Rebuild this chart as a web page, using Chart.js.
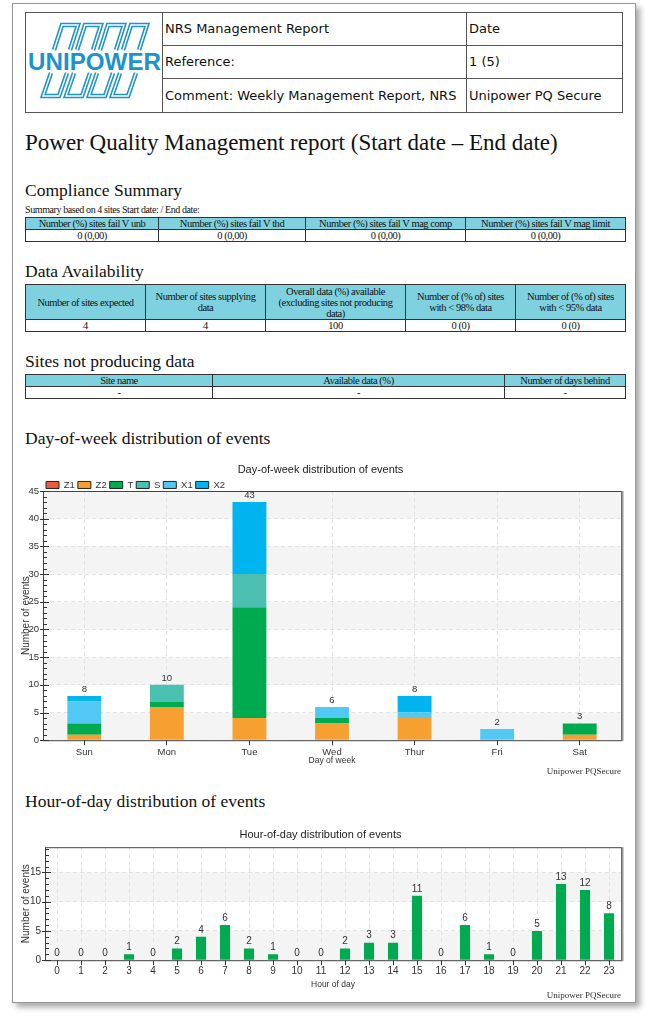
<!DOCTYPE html>
<html>
<head>
<meta charset="utf-8">
<script src="https://cdn.jsdelivr.net/npm/chart.js@4.4.0/dist/chart.umd.min.js"></script>
<style>
  body { margin: 0; width: 650px; height: 1024px; background: #fff; position: relative; overflow: hidden; }
  .page { position: absolute; left: 12px; top: 3px; width: 622px; height: 998px; border: 1px solid #999; box-shadow: 4px 4px 6px rgba(0,0,0,0.35); background: #fff; }
  .abs { position: absolute; }
  .head { font-family: "Liberation Serif", serif; color: #111; white-space: nowrap; }
  table { border-collapse: collapse; table-layout: fixed; position: absolute; }
  .hdr td { border: 1px solid #555; font-family: "DejaVu Sans", sans-serif; font-size: 13px; color: #111; padding: 0 2px; white-space: nowrap; }
  .grid td { border: 1px solid #333; font-family: "Liberation Serif", serif; font-size: 10.5px; letter-spacing: -0.45px; text-align: center; color: #111; padding: 0 3px; line-height: 11px; }
  .grid tr.h td { background: #80d1df; }
  canvas { position: absolute; }
</style>
</head>
<body>
<div class="page"></div>

<table class="hdr" style="left:25px;top:12px;width:597px;height:98px;">
  <colgroup><col style="width:137px"><col style="width:304px"><col style="width:156px"></colgroup>
  <tr style="height:32px">
    <td rowspan="3" style="padding:0">
      <svg width="137" height="96" viewBox="0 0 137 96">
        <g fill="none" stroke="#1d93cc" stroke-width="4.5" stroke-linejoin="miter">
          <path d="M28 37 L36 12 L52 12 L44 37"/><path d="M51 37 L59 12 L75 12 L67 37"/>
          <path d="M74 37 L82 12 L98 12 L90 37"/><path d="M97 37 L105 12 L121 12 L113 37"/>
          <path d="M25 60 L17 83 L33 83 L41 60"/><path d="M48 60 L40 83 L56 83 L64 60"/>
          <path d="M71 60 L63 83 L79 83 L87 60"/><path d="M94 60 L86 83 L102 83 L110 60"/>
        </g>
        <g fill="none" stroke="#fff" stroke-width="1.4">
          <path d="M28 37 L36 12 L52 12 L44 37"/><path d="M51 37 L59 12 L75 12 L67 37"/>
          <path d="M74 37 L82 12 L98 12 L90 37"/><path d="M97 37 L105 12 L121 12 L113 37"/>
          <path d="M25 60 L17 83 L33 83 L41 60"/><path d="M48 60 L40 83 L56 83 L64 60"/>
          <path d="M71 60 L63 83 L79 83 L87 60"/><path d="M94 60 L86 83 L102 83 L110 60"/>
        </g>
        <text x="2" y="57" font-family="Liberation Sans, sans-serif" font-weight="bold" font-size="23" fill="#1d93cc" textLength="133" lengthAdjust="spacingAndGlyphs">UNIPOWER</text>
      </svg>
    </td>
    <td>NRS Management Report</td><td>Date</td>
  </tr>
  <tr style="height:33px"><td>Reference:</td><td>1 (5)</td></tr>
  <tr style="height:33px"><td>Comment: Weekly Management Report, NRS</td><td>Unipower PQ Secure</td></tr>
</table>

<div class="abs head" style="left:25px;top:130px;font-size:23px;line-height:26px;">Power Quality Management report (Start date &#8211; End date)</div>

<div class="abs head" style="left:25px;top:180px;font-size:17.5px;line-height:20px;">Compliance Summary</div>
<div class="abs head" style="left:25px;top:204px;font-size:10px;line-height:11px;letter-spacing:-0.4px;">Summary based on 4 sites Start date: / End date:</div>
<table class="grid" style="left:25px;top:217px;width:600px;">
  <colgroup><col style="width:133px"><col style="width:147px"><col style="width:160px"><col style="width:160px"></colgroup>
  <tr class="h" style="height:12px"><td>Number (%) sites fail V unb</td><td>Number (%) sites fail V thd</td><td>Number (%) sites fail V mag comp</td><td>Number (%) sites fail V mag limit</td></tr>
  <tr style="height:12px"><td>0 (0,00)</td><td>0 (0,00)</td><td>0 (0,00)</td><td>0 (0,00)</td></tr>
</table>

<div class="abs head" style="left:25px;top:261px;font-size:17.5px;line-height:20px;">Data Availability</div>
<table class="grid" style="left:25px;top:284px;width:600px;">
  <colgroup><col style="width:120px"><col style="width:120px"><col style="width:140px"><col style="width:110px"><col style="width:110px"></colgroup>
  <tr class="h" style="height:35px"><td>Number of sites expected</td><td>Number of sites supplying data</td><td>Overall data (%) available (excluding sites not producing data)</td><td>Number of (% of) sites with &lt; 98% data</td><td>Number of (% of) sites with &lt; 95% data</td></tr>
  <tr style="height:12px"><td>4</td><td>4</td><td>100</td><td>0 (0)</td><td>0 (0)</td></tr>
</table>

<div class="abs head" style="left:25px;top:351px;font-size:17.5px;line-height:20px;">Sites not producing data</div>
<table class="grid" style="left:25px;top:374px;width:600px;">
  <colgroup><col style="width:187px"><col style="width:292px"><col style="width:121px"></colgroup>
  <tr class="h" style="height:12px"><td>Site name</td><td>Available data (%)</td><td>Number of days behind</td></tr>
  <tr style="height:11px"><td>-</td><td>-</td><td>-</td></tr>
</table>

<div class="abs head" style="left:25px;top:428px;font-size:17.5px;line-height:20px;">Day-of-week distribution of events</div>
<canvas id="dayChart" width="610" height="320" style="left:20px;top:459px;width:610px;height:320px;"></canvas>

<div class="abs head" style="left:25px;top:791px;font-size:17.5px;line-height:20px;">Hour-of-day distribution of events</div>
<canvas id="hourChart" width="610" height="178" style="left:20px;top:823px;width:610px;height:178px;"></canvas>

<script>
// Day-of-week data (stacked by event type)
const days = ["Sun", "Mon", "Tue", "Wed", "Thur", "Fri", "Sat"];
const z1Events = [0, 0, 0, 0, 0, 0, 0];
const z2Events = [1, 6, 4, 3, 4, 0, 1];
const tEvents = [2, 1, 20, 1, 0, 0, 2];
const sEvents = [0, 3, 6, 0, 0, 0, 0];
const x1Events = [4, 0, 0, 2, 1, 2, 0];
const x2Events = [1, 0, 13, 0, 3, 0, 0];
const dayMax = 45;

// Hour-of-day data
const hours = ["0", "1", "2", "3", "4", "5", "6", "7", "8", "9", "10", "11",
  "12", "13", "14", "15", "16", "17", "18", "19", "20", "21", "22", "23"];
const hourEvents = [0, 0, 0, 1, 0, 2, 4, 6, 2, 1, 0, 0, 2, 3, 3, 11, 0, 6, 1, 0, 5, 13, 12, 8];
const hourMax = 19.3;

const sans = "'Liberation Sans', Arial, sans-serif";

// grey bands between every other major tick
const bands = {
  id: "bands",
  beforeDraw(chart) {
    const { ctx, chartArea: a, scales: { y } } = chart;
    const t = y.ticks;
    ctx.save();
    ctx.fillStyle = "#f4f4f4";
    for (let i = 0; i < t.length; i += 2) {
      const bottom = y.getPixelForValue(t[i].value);
      const top = i + 1 < t.length ? y.getPixelForValue(t[i + 1].value) : a.top;
      ctx.fillRect(a.left, top, a.right - a.left, bottom - top);
    }
    ctx.restore();
  },
};

// plot frame + minor ticks on the y axis
const frame = {
  id: "frame",
  afterDatasetsDraw(chart) {
    const { ctx, chartArea: a, scales: { y } } = chart;
    ctx.save();
    ctx.strokeStyle = "#444";
    ctx.lineWidth = 1;
    ctx.strokeRect(a.left + 0.5, a.top + 0.5, a.right - a.left, a.bottom - a.top);
    ctx.strokeStyle = "#999";
    ctx.lineWidth = 2;
    ctx.beginPath();
    ctx.moveTo(a.right + 1.5, a.top);
    ctx.lineTo(a.right + 1.5, a.bottom + 1);
    ctx.stroke();
    ctx.strokeStyle = "#333";
    ctx.lineWidth = 1;
    for (let v = 0; v <= y.max; v++) {
      const py = Math.round(y.getPixelForValue(v)) + 0.5;
      const major = v % 5 === 0;
      ctx.beginPath();
      ctx.moveTo(a.left - (major ? 3 : 0), py);
      ctx.lineTo(a.left + (major ? 6 : 4), py);
      ctx.stroke();
    }
    ctx.restore();
  },
};

// value labels above each bar / stack
const totals = {
  id: "totals",
  afterDatasetsDraw(chart, args, opts) {
    const { ctx, scales: { x, y } } = chart;
    const sets = chart.data.datasets;
    ctx.save();
    ctx.font = opts.font;
    ctx.fillStyle = "#333";
    ctx.textAlign = "center";
    ctx.textBaseline = "bottom";
    chart.data.labels.forEach((lab, i) => {
      const sum = sets.reduce((s, d) => s + (d.data[i] || 0), 0);
      if (sum === 0 && !opts.showZero) return;
      ctx.fillText(String(sum), x.getPixelForValue(i), y.getPixelForValue(sum) - 2);
    });
    ctx.restore();
  },
};

// legend sits tight on top of the plot
const tightLegend = {
  id: "tightLegend",
  afterInit(chart) {
    const lg = chart.legend;
    if (!lg) return;
    const fit = lg.fit;
    lg.fit = function () {
      fit.call(this);
      this.height -= 8.7;
    };
  },
};

const legendLabels = (chart) =>
  Chart.defaults.plugins.legend.labels.generateLabels(chart).map((l) => ({
    ...l, strokeStyle: "#222", lineWidth: 1,
  }));

// Day-of-week Chart
new Chart(document.getElementById("dayChart"), {
  type: "bar",
  data: {
    labels: days,
    datasets: [
      { label: "Z1", data: z1Events, backgroundColor: "#ef5a3c" },
      { label: "Z2", data: z2Events, backgroundColor: "#f7a032" },
      { label: "T", data: tEvents, backgroundColor: "#00ab4f" },
      { label: "S", data: sEvents, backgroundColor: "#4cc0b0" },
      { label: "X1", data: x1Events, backgroundColor: "#52c9f5" },
      { label: "X2", data: x2Events, backgroundColor: "#00b4ef" },
    ],
  },
  options: {
    responsive: false,
    animation: false,
    layout: { padding: { right: 9, bottom: 0 } },
    datasets: { bar: { barPercentage: 0.41, categoryPercentage: 1 } },
    plugins: {
      tooltip: { enabled: false },
      title: {
        display: true,
        text: "Day-of-week distribution of events",
        color: "#222",
        font: { family: sans, size: 11, weight: "normal" },
        padding: { top: 4.5, bottom: 0.5 },
      },
      legend: {
        position: "top",
        align: "start",
        fullSize: false,
        labels: {
          boxWidth: 13,
          boxHeight: 7,
          padding: 3,
          color: "#333",
          font: { family: sans, size: 9.5 },
          generateLabels: legendLabels,
        },
      },
      subtitle: {
        display: true,
        position: "bottom",
        align: "end",
        text: "Unipower PQSecure",
        color: "#333",
        font: { family: "'Liberation Serif', serif", size: 9 },
        padding: { top: 0, bottom: 2 },
      },
      totals: { font: "9.5px " + sans, showZero: false },
    },
    scales: {
      x: {
        stacked: true,
        afterFit: (s) => { s.height = 26; },
        grid: { color: "#e3e3e3", offset: false, drawTicks: true, tickLength: 5, tickColor: "#333" },
        border: { display: false, dash: [4, 3] },
        ticks: { color: "#333", font: { family: sans, size: 9.5 }, padding: 1 },
        title: { display: true, text: "Day of week", color: "#333", font: { family: sans, size: 8.5 }, padding: 0 },
      },
      y: {
        stacked: true,
        min: 0,
        max: dayMax,
        afterFit: (s) => { s.width = 23; },
        grid: { color: "#e3e3e3", drawTicks: false },
        border: { display: false, dash: [4, 3] },
        ticks: { stepSize: 5, color: "#333", font: { family: sans, size: 9.5 }, padding: 4 },
        title: { display: true, text: "Number of events", color: "#333", font: { family: sans, size: 10 }, padding: 0 },
      },
    },
  },
  plugins: [bands, frame, totals, tightLegend],
});

// Hour-of-day Chart
new Chart(document.getElementById("hourChart"), {
  type: "bar",
  data: {
    labels: hours,
    datasets: [{ label: "Events", data: hourEvents, backgroundColor: "#00ab4f" }],
  },
  options: {
    responsive: false,
    animation: false,
    layout: { padding: { right: 9 } },
    datasets: { bar: { barPercentage: 0.42, categoryPercentage: 1 } },
    plugins: {
      tooltip: { enabled: false },
      legend: { display: false },
      title: {
        display: true,
        text: "Hour-of-day distribution of events",
        color: "#222",
        font: { family: sans, size: 11, weight: "normal" },
        padding: { top: 5, bottom: 6 },
      },
      subtitle: {
        display: true,
        position: "bottom",
        align: "end",
        text: "Unipower PQSecure",
        color: "#333",
        font: { family: "'Liberation Serif', serif", size: 9 },
        padding: { top: 0, bottom: 0 },
      },
      totals: { font: "10px " + sans, showZero: true },
    },
    scales: {
      x: {
        afterFit: (s) => { s.height = 30; },
        grid: { color: "#e3e3e3", offset: false, drawTicks: true, tickLength: 5, tickColor: "#333" },
        border: { display: false, dash: [4, 3] },
        ticks: { color: "#333", font: { family: sans, size: 10 }, padding: 0 },
        title: { display: true, text: "Hour of day", color: "#333", font: { family: sans, size: 8.5 }, padding: 0 },
      },
      y: {
        min: 0,
        max: hourMax,
        afterFit: (s) => { s.width = 25; },
        afterBuildTicks: (s) => { s.ticks = s.ticks.filter((t) => t.value % 5 === 0); },
        grid: { color: "#e3e3e3", drawTicks: false },
        border: { display: false, dash: [4, 3] },
        ticks: { stepSize: 5, color: "#333", font: { family: sans, size: 10 }, padding: 4 },
        title: { display: true, text: "Number of events", color: "#333", font: { family: sans, size: 10 }, padding: 0 },
      },
    },
  },
  plugins: [bands, frame, totals],
});
</script>
</body>
</html>
